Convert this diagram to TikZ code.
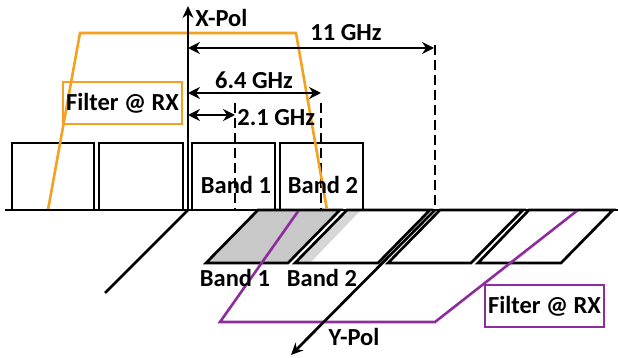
\documentclass[tikz,border=0pt]{standalone}
\usepackage{fontspec}
\setmainfont{Carlito}
\usetikzlibrary{arrows.meta}
\definecolor{filtorange}{HTML}{F5A01E}
\definecolor{filtpurple}{HTML}{8E2C9E}
\definecolor{bandgray}{HTML}{C8C8C8}
\definecolor{lightgray2}{HTML}{D6D6D6}
\begin{document}
\begin{tikzpicture}[x=1pt,y=-1pt,line width=2.7pt,line join=miter,
  lbl/.style={font=\bfseries\fontsize{24.5}{26}\selectfont,inner sep=0pt},
  dimarrow/.style={{Stealth[length=12pt,width=12pt,inset=4pt]}-{Stealth[length=12pt,width=12pt,inset=4pt]}},
  axisarrow/.style={-{Stealth[length=12pt,width=11pt]}},
  dashline/.style={dash pattern=on 10pt off 5pt},
  orangefilter/.style={draw=filtorange,line width=2.6pt},
  purplefilter/.style={draw=filtpurple,line width=2.6pt},
  bandbox/.style={draw=black}]
\useasboundingbox (0,0) rectangle (618,358);
% coordinates
\coordinate (o) at (188,210);
\coordinate (xtop) at (188,6);
\coordinate (blL) at (5,210);
\coordinate (blR) at (618,210);
\coordinate (yo) at (435,210);
\coordinate (yend) at (291,355);
% X-pol rectangles
\draw[bandbox] (12,210) rectangle (94,143);
\draw[bandbox] (99,210) rectangle (183,143);
\draw[bandbox] (192,210) rectangle (275,143);
\draw[bandbox] (280,210) rectangle (363,143);
% Y-pol parallelograms
\draw[bandbox,fill=bandgray] (258,210) -- (340,210) -- (288,263) -- (206,263) -- cycle;
\fill[lightgray2] (347,210) -- (361,210) -- (310,263) -- (295,263) -- cycle;
\draw[bandbox] (347,210) -- (430,210) -- (378,263) -- (295,263) -- cycle;
\draw[bandbox] (440,210) -- (523,210) -- (471,263) -- (388,263) -- cycle;
\draw[bandbox] (529,210) -- (613,210) -- (561,263) -- (478,263) -- cycle;
% dashed lines
\coordinate (d1t) at (235,103); \coordinate (d1b) at (235,210);
\coordinate (d2t) at (321,103); \coordinate (d2b) at (321,210);
\coordinate (d3t) at (435,45);  \coordinate (d3b) at (435,210);
\draw[dashline] (d1t) -- (d1b);
\draw[dashline] (d2t) -- (d2b);
\draw[dashline] (d3t) -- (d3b);
% filters
\draw[orangefilter] (48,210) -- (80,33) -- (296,33) -- (327,210);
\node[draw=filtorange,line width=2.6pt,minimum width=119pt,minimum height=42pt,inner sep=0pt] (fx) at (122.5,103) {};
\node[lbl] (fxl) at (fx.center) {Filter @ RX};
\draw[purplefilter] (299,210) -- (220,322) -- (435,322) -- (578,210);
\node[draw=filtpurple,line width=2.6pt,minimum width=119pt,minimum height=42pt,inner sep=0pt] (fy) at (544.5,306) {};
\node[lbl] (fyl) at (fy.center) {Filter @ RX};
% axes
\draw (blL) -- (blR);
\draw[axisarrow] (o) -- (xtop);
\draw (o) -- (105,293);
\draw[axisarrow] (yo) -- (yend);
% dimension arrows
\coordinate (a11l) at (188,48); \coordinate (a11r) at (434,48);
\coordinate (a64l) at (188,93); \coordinate (a64r) at (321,93);
\coordinate (a21l) at (188,115); \coordinate (a21r) at (235,115);
\draw[dimarrow] (a11l) -- (a11r);
\draw[dimarrow] (a64l) -- (a64r);
\draw[dimarrow] (a21l) -- (a21r);
% labels
\node[lbl,anchor=west] (xpol) at (194,18) {X-Pol};
\node[lbl] (l11) at (346,33) {11 GHz};
\node[lbl] (l64) at (254,80) {6.4 GHz};
\node[lbl,anchor=west] (l21) at (236,118) {2.1 GHz};
\node[lbl] (b1x) at (236,185) {Band 1};
\node[lbl] (b2x) at (323,185) {Band 2};
\node[lbl] (b1y) at (235,278) {Band 1};
\node[lbl] (b2y) at (322,278) {Band 2};
\node[lbl] (ypol) at (354,337) {Y-Pol};
\end{tikzpicture}
\end{document}
